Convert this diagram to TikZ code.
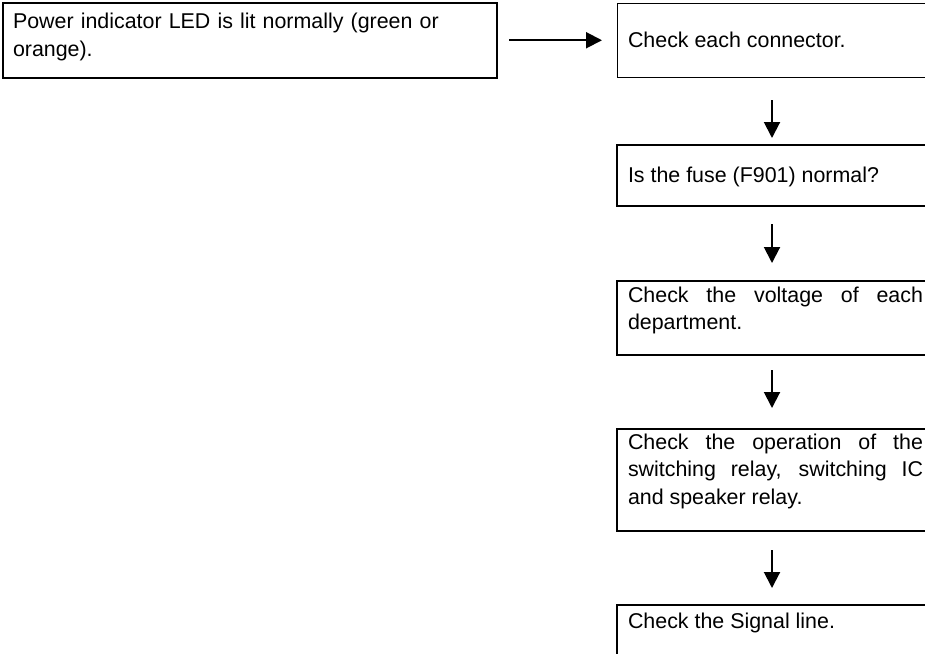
\documentclass[tikz,border=0pt]{standalone}
\usepackage{fontspec}
\setmainfont{Liberation Sans}
\usetikzlibrary{arrows.meta}
\hyphenpenalty=10000
\tolerance=10000
\tikzset{
  stepbox/.style={draw, rectangle, anchor=north west, outer sep=0pt,
    inner xsep=11pt, inner ysep=0pt, text width=295pt, align=justify,
    line width=2pt, font=\fontsize{21.4}{27.5}\selectfont},
  flow/.style={-{Triangle[length=16pt,width=16pt]}, line width=2pt}
}
\begin{document}
\begin{tikzpicture}[x=1pt,y=-1pt]
      \useasboundingbox (0,0) rectangle (925,653);
      \coordinate (axis) at (772,0);
      \path
        (3,3) node[stepbox, text width=474pt, inner xsep=10pt, align=left,
          text height=25.5pt, text depth=49pt] (power)
          {Power indicator LED is lit normally (green or orange).}
        (617,3) node[stepbox, line width=1pt, text height=44pt, text depth=30pt] (connector)
          {Check each connector.}
        (617,145) node[stepbox, text height=37pt, text depth=24pt] (fuse)
          {Is the fuse (F901) normal?}
        (617,281) node[stepbox, text height=21pt, text depth=53pt] (voltage)
          {Check the voltage of each department.}
        (617,429) node[stepbox, text height=20pt, text depth=82pt] (relay)
          {Check the operation of the switching relay, switching IC\linebreak{} and speaker relay.}
        (617,605) node[stepbox, text height=23pt, text depth=70pt] (signal)
          {Check the Signal line.};
      \begin{scope}[flow]
        \draw[shorten <=12pt, shorten >=15pt] (power.east) -- (power.east -| connector.west);
        \draw[shorten <=23pt, shorten >=7pt] (connector.south -| axis) -- (fuse.north -| axis);
        \draw[shorten <=18pt, shorten >=18pt] (fuse.south -| axis) -- (voltage.north -| axis);
        \draw[shorten <=15pt, shorten >=21pt] (voltage.south -| axis) -- (relay.north -| axis);
        \draw[shorten <=19pt, shorten >=17pt] (relay.south -| axis) -- (signal.north -| axis);
      \end{scope}
    \end{tikzpicture}
\end{document}
